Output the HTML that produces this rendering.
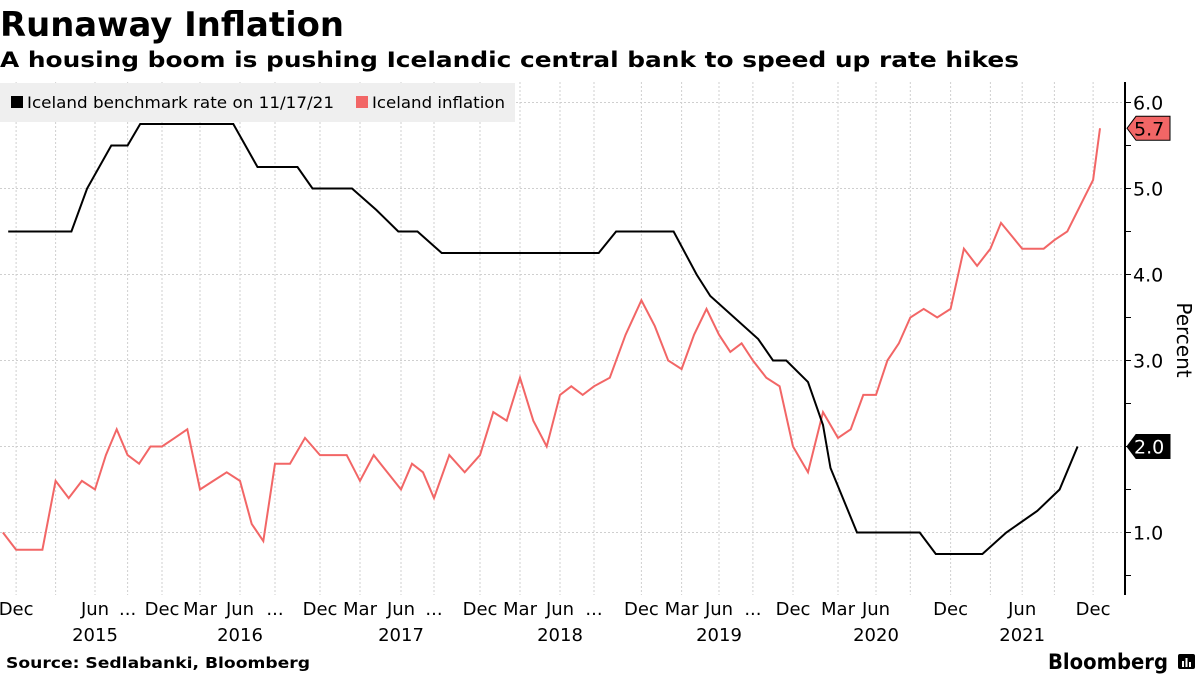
<!DOCTYPE html>
<html><head><meta charset="utf-8"><style>
html,body{margin:0;padding:0;background:#fff;width:1200px;height:675px;overflow:hidden}
svg{display:block;font-family:"DejaVu Sans","Liberation Sans",sans-serif}
</style></head><body>
<svg id="chart" width="1200" height="675" viewBox="0 0 1200 675">
<text x="0" y="36" font-size="34" font-weight="bold" textLength="344" lengthAdjust="spacingAndGlyphs">Runaway Inflation</text>
<text x="0" y="67" font-size="21" font-weight="bold" textLength="1019" lengthAdjust="spacingAndGlyphs">A housing boom is pushing Icelandic central bank to speed up rate hikes</text>
<g id="grid"></g>
<rect x="0" y="83" width="515" height="39" fill="#efefef"/>
<g><rect x="11" y="96" width="12" height="12" fill="#000"/><text x="27" y="108" font-size="16" textLength="307" lengthAdjust="spacingAndGlyphs">Iceland benchmark rate on 11/17/21</text></g>
<g><rect x="356" y="96" width="12" height="12" fill="#f26666"/><text x="372" y="108" font-size="16" textLength="133" lengthAdjust="spacingAndGlyphs">Iceland inflation</text></g>
<g id="series"></g>
<g id="axes"></g>
<text transform="translate(1177,340) rotate(90)" font-size="20" text-anchor="middle">Percent</text>
<text x="6" y="668" font-size="15" font-weight="bold" textLength="304" lengthAdjust="spacingAndGlyphs">Source: Sedlabanki, Bloomberg</text>
<text x="1048" y="669" font-size="21" font-weight="bold" textLength="120" lengthAdjust="spacingAndGlyphs">Bloomberg</text>
<g><rect x="1178" y="654" width="17" height="15" rx="2" fill="#000"/><rect x="1182" y="661" width="2" height="6" fill="#fff"/><rect x="1185.5" y="658" width="2" height="9" fill="#fff"/><rect x="1189" y="662" width="2" height="5" fill="#fff"/></g>
</svg>
<script>
// month index 0 = Dec 2014
const quarterLabels = ["Dec","","Jun","...","Dec","Mar","Jun","...","Dec","Mar","Jun","...","Dec","Mar","Jun","...","Dec","Mar","Jun","...","Dec","Mar","Jun","","Dec","","Jun","","Dec"];
const yearLabels = ["2015","2016","2017","2018","2019","2020","2021"];
const yearLabelQuarter = [2,6,10,14,18,22,26];
const yTicks = [1,2,3,4,5,6];
// Iceland inflation monthly, Nov 2014 .. Jan 2022
const inflationStartMonth = -1;
const inflation = [1.0,0.8,0.8,0.8,1.6,1.4,1.6,1.5,1.9,2.2,1.9,1.8,2.0,2.0,2.1,2.2,1.5,1.6,1.7,1.6,1.1,0.9,1.8,1.8,2.1,1.9,1.9,1.9,1.6,1.9,1.7,1.5,1.8,1.7,1.4,1.9,1.7,1.9,2.4,2.3,2.8,2.3,2.0,2.6,2.7,2.6,2.7,2.8,3.3,3.7,3.4,3.0,2.9,3.3,3.6,3.3,3.1,3.2,3.0,2.8,2.7,2.0,1.7,2.4,2.1,2.2,2.6,2.6,3.0,3.2,3.5,3.6,3.5,3.6,4.3,4.1,4.3,4.6,4.45,4.3,4.3,4.3,4.4,4.5,4.8,5.1,5.7];
// benchmark rate breakpoints (month index, value)
const rateMonths = [-0.6,4.2,5.4,7.5,9.0,10.1,17.5,19.5,22.5,23.5,26.4,28.2,29.8,31.5,33.5,45.3,46.4,50.4,52.2,53.3,57.4,58.5,59.5,61,62,62.5,64.5,69.7,70.9,74.4,76.5,79.4,81.4,82.8];
const rateValues = [4.5,4.5,5.0,5.5,5.5,5.75,5.75,5.25,5.25,5.0,5.0,4.75,4.5,4.5,4.25,4.25,4.5,4.5,4.0,3.75,3.25,3.0,3.0,2.75,2.25,1.75,1.0,1.0,0.75,0.75,1.0,1.25,1.5,2.0];
const lastInflation = 5.7, lastRate = 2.0;

const NS="http://www.w3.org/2000/svg";
// quarter gridline pixel anchors (layout of the irregular source axis)
const qx=[16.1,55.6,95,127.6,162,200,240,275,320,360,401,434,480,520,560,594,641.4,681.6,719,752.9,793,838,876,910.3,950.6,990.4,1022.2,1054.4,1093.1];
function xs(m){let q=m/3;let i=Math.floor(q);if(i<0)i=0;if(i>qx.length-2)i=qx.length-2;return qx[i]+(q-i)*(qx[i+1]-qx[i]);}
function ys(v){return 102.5+(6-v)*86;}
function mk(t,a,p){const e=document.createElementNS(NS,t);for(const k in a)e.setAttribute(k,a[k]);p.appendChild(e);return e;}
const grid=document.getElementById('grid'),series=document.getElementById('series'),axes=document.getElementById('axes');
qx.forEach((x,i)=>{const l=mk('line',{x1:xs(i*3),x2:xs(i*3),y1:82,y2:595,stroke:'#cfcfcf','stroke-width':1,'stroke-dasharray':'2,2'},grid);

});
yTicks.forEach(v=>{const l=mk('line',{x1:0,x2:1125,y1:ys(v),y2:ys(v),stroke:'#cfcfcf','stroke-width':1,'stroke-dasharray':'2,2'},grid);

});
let p=inflation.map((v,i)=>Math.min(xs(i+inflationStartMonth),1100).toFixed(1)+','+ys(v).toFixed(1)).join(' ');
const red=mk('polyline',{points:p,fill:'none',stroke:'#f26666','stroke-width':2},series);


p=rateMonths.map((m,i)=>xs(m).toFixed(1)+','+ys(rateValues[i]).toFixed(1)).join(' ');
const blk=mk('polyline',{points:p,fill:'none',stroke:'#000','stroke-width':2},series);


const ax=mk('line',{x1:1125,x2:1125,y1:82,y2:595,stroke:'#000','stroke-width':2},axes);


for(let v=0.5;v<=6;v+=0.5){mk('line',{x1:1125,x2:1131,y1:ys(v),y2:ys(v),stroke:'#000','stroke-width':1},axes);}
yTicks.forEach(v=>{const t=mk('text',{x:1133,y:ys(v)+7,'font-size':19},axes);t.textContent=v.toFixed(1);

});
quarterLabels.forEach((s,i)=>{if(!s)return;const t=mk('text',{x:xs(i*3),y:615,'font-size':18,'text-anchor':'middle'},axes);t.textContent=s;

});
yearLabels.forEach((s,i)=>{const t=mk('text',{x:xs(yearLabelQuarter[i]*3),y:641,'font-size':18,'text-anchor':'middle'},axes);t.textContent=s;

});
function tag(v,fill,col,name){const y=ys(v);const g=mk('g',{},axes);


mk('path',{d:`M1127,${y} L1136,${y-12} L1170,${y-12} L1170,${y+12} L1136,${y+12} Z`,fill:fill,stroke:'#000','stroke-width':1},g);
const t=mk('text',{x:1134,y:y+7,'font-size':19,fill:col},g);t.textContent=v.toFixed(1);}
tag(lastInflation,'#f26666','#000','inflation-value-tag');
tag(lastRate,'#000','#fff','rate-value-tag');
</script>
</body></html>
